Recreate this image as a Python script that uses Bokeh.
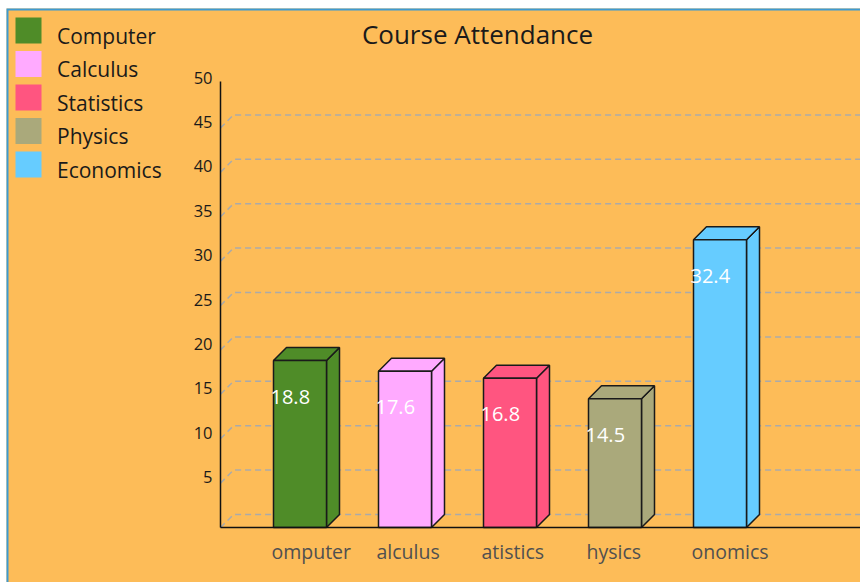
from bokeh.plotting import figure
from bokeh.models import Range1d, LinearAxis, FixedTicker
from bokeh.core.properties import value
from bokeh.embed import file_html
from bokeh.resources import INLINE

# ---- data ----
courses = ["Computer", "Calculus", "Statistics", "Physics", "Economics"]
attendance = [18.8, 17.6, 16.8, 14.5, 32.4]
colors = ["#4f8c28", "#ffaaff", "#ff5580", "#aaa97b", "#66ccff"]
# category labels as they appear (clipped) in the reference
axis_labels = ["omputer", "alculus", "atistics", "hysics", "onomics"]
y_ticks = [5, 10, 15, 20, 25, 30, 35, 40, 45, 50]
y_tick_labels = ["5", "10", "15", "20", "25", "30", "35", "40", "45", "50"]
grid_values = [0, 5, 10, 15, 20, 25, 30, 35, 40, 45]
title_text = "Course Attendance"

FONT = "Open Sans"
BG = "#fdbc58"
PW, PH = 860, 582          # page size
FL, FT = 6, 8              # frame origin on the page (container with border)

# page-pixel -> data helpers
CX0, XS = 299.5, 105.0     # page x of first category centre, px per category
BY0, YS = 527.0, 8.88      # page y of value 0, px per unit


def xd(px):
    return (px - CX0) / XS


def yd(py):
    return (BY0 - py) / YS


BW = 53 / XS
DX = 13 / XS
DY = 13 / YS
ax_x = xd(220)
x_end = xd(PW)

p = figure(width=PW, height=PH,
           x_range=Range1d(xd(FL), xd(PW)), y_range=Range1d(yd(PH), yd(FT)),
           output_backend="svg", toolbar_location=None,
           x_axis_location=None, y_axis_location=None,
           min_border_left=FL, min_border_top=FT,
           min_border_right=0, min_border_bottom=0)
p.background_fill_color = BG
p.border_fill_color = "white"
p.outline_line_color = None
p.grid.visible = False

# axes (fixed inside the frame)
yax = LinearAxis(fixed_location=ax_x, bounds=(0, yd(81)), ticker=FixedTicker(ticks=[]),
                 major_tick_line_color=None, minor_tick_line_color=None,
                 major_label_text_font_size="0px", axis_line_color="#111111", axis_line_width=1.5)
xax = LinearAxis(fixed_location=0, bounds=(ax_x, x_end), ticker=FixedTicker(ticks=[]),
                 major_tick_line_color=None, minor_tick_line_color=None,
                 major_label_text_font_size="0px", axis_line_color="#111111", axis_line_width=1.5)
p.add_layout(yax, "left")
p.add_layout(xax, "below")

# 3D grid lines on the back wall
gxs = [[ax_x, ax_x + DX, x_end] for v in grid_values]
gys = [[v, v + DY, v + DY] for v in grid_values]
p.multi_line(gxs, gys, line_color="#aaaaaa", line_width=1.5, line_dash="6 4")

# bars
lefts = [i - BW / 2 for i in range(len(courses))]
rights = [i + BW / 2 for i in range(len(courses))]
side_xs = [[r, r + DX, r + DX, r] for r in rights]
side_ys = [[0, DY, v + DY, v] for v in attendance]
top_xs = [[l, r, r + DX, l + DX] for l, r in zip(lefts, rights)]
top_ys = [[v, v, v + DY, v + DY] for v in attendance]
p.patches(side_xs, side_ys, fill_color=colors, line_color="#1a1a1a", line_width=1.5)
p.patches(top_xs, top_ys, fill_color=colors, line_color="#1a1a1a", line_width=1.5)
p.quad(left=lefts, right=rights, bottom=0, top=attendance,
       fill_color=colors, line_color="#1a1a1a", line_width=1.5)

# value labels
p.text(x=lefts, y=attendance, text=[str(v) for v in attendance], x_offset=-3, y_offset=36,
       text_align="left", text_baseline="alphabetic", text_color="white",
       text_font=value(FONT), text_font_size="20px")

# category labels
p.text(x=lefts, y=[0] * len(courses), text=axis_labels, x_offset=-2, y_offset=24,
       text_align="left", text_baseline="alphabetic", text_color="#505050",
       text_font=value(FONT), text_font_size="19.5px")

# y tick labels
p.text(x=[ax_x] * len(y_ticks), y=y_ticks, text=y_tick_labels, x_offset=-8, y_offset=-6,
       text_align="right", text_baseline="alphabetic", text_color="#1a1a1a",
       text_font=value(FONT), text_font_size="16.5px")

# title
p.text(x=[xd(477)], y=[yd(33)], text=[title_text], text_align="center",
       text_baseline="alphabetic", text_color="#1a1a1a",
       text_font=value(FONT), text_font_size="26px")

# legend
leg_x = [xd(28)] * len(courses)
leg_y = [yd(30 + 33.5 * k) for k in range(len(courses))]
p.rect(x=leg_x, y=leg_y, width=26, height=26, width_units="screen", height_units="screen",
       fill_color=colors, line_color=None)
p.text(x=[xd(56.5)] * len(courses), y=[yd(35 + 33.5 * k) for k in range(len(courses))],
       text=courses, text_align="left", text_baseline="alphabetic", text_color="#1a1a1a",
       text_font=value(FONT), text_font_size="21px")

# container border (left and top)
p.line(x=[xd(FL), xd(FL), xd(PW)], y=[yd(PH), yd(FT), yd(FT)], line_width=4, line_color="#3d9ad1")

open("out.html", "w").write(file_html(p, INLINE))
